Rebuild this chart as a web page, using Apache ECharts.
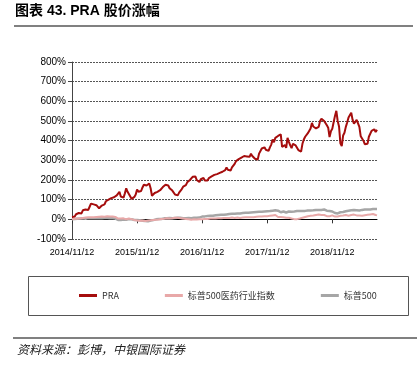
<!DOCTYPE html>
<html><head><meta charset="utf-8">
<script src="https://cdn.jsdelivr.net/npm/echarts@6/dist/echarts.min.js"></script>
<style>html,body{margin:0;padding:0;background:#fff}#c{width:417px;height:374px}</style>
</head><body><div id="c"></div>
<script>
var dates = [
"2014/11/12","2014/11/19","2014/11/26",
"2014/12/05","2014/12/12","2014/12/19","2014/12/26",
"2015/01/05","2015/01/12","2015/01/19","2015/01/26","2015/02/05","2015/02/12","2015/02/19","2015/02/26",
"2015/03/05","2015/03/12","2015/03/19","2015/03/26","2015/04/05","2015/04/12","2015/04/19","2015/04/26",
"2015/05/05","2015/05/12","2015/05/19","2015/05/26","2015/06/05","2015/06/12","2015/06/19","2015/06/26",
"2015/07/05","2015/07/12","2015/07/19","2015/07/26","2015/08/05","2015/08/12","2015/08/19","2015/08/26",
"2015/09/05","2015/09/12","2015/09/19","2015/09/26","2015/10/05","2015/10/12","2015/10/19","2015/10/26",
"2015/11/05","2015/11/12","2015/11/19","2015/11/26","2015/12/05","2015/12/12","2015/12/19","2015/12/26",
"2016/01/05","2016/01/12","2016/01/19","2016/01/26","2016/02/05","2016/02/12","2016/02/19","2016/02/26",
"2016/03/05","2016/03/12","2016/03/19","2016/03/26","2016/04/05","2016/04/12","2016/04/19","2016/04/26",
"2016/05/05","2016/05/12","2016/05/19","2016/05/26","2016/06/05","2016/06/12","2016/06/19","2016/06/26",
"2016/07/05","2016/07/12","2016/07/19","2016/07/26","2016/08/05","2016/08/12","2016/08/19","2016/08/26",
"2016/09/05","2016/09/12","2016/09/19","2016/09/26","2016/10/05","2016/10/12","2016/10/19","2016/10/26",
"2016/11/05","2016/11/12","2016/11/19","2016/11/26","2016/12/05","2016/12/12","2016/12/19","2016/12/26",
"2017/01/05","2017/01/12","2017/01/19","2017/01/26","2017/02/05","2017/02/12","2017/02/19","2017/02/26",
"2017/03/05","2017/03/12","2017/03/19","2017/03/26","2017/04/05","2017/04/12","2017/04/19","2017/04/26",
"2017/05/05","2017/05/12","2017/05/19","2017/05/26","2017/06/05","2017/06/12","2017/06/19","2017/06/26",
"2017/07/05","2017/07/12","2017/07/19","2017/07/26","2017/08/05","2017/08/12","2017/08/19","2017/08/26",
"2017/09/05","2017/09/12","2017/09/19","2017/09/26","2017/10/05","2017/10/12","2017/10/19","2017/10/26",
"2017/11/05","2017/11/12","2017/11/19","2017/11/26","2017/12/05","2017/12/12","2017/12/19","2017/12/26",
"2018/01/05","2018/01/12","2018/01/19","2018/01/26","2018/02/05","2018/02/12","2018/02/19","2018/02/26",
"2018/03/05","2018/03/12","2018/03/19","2018/03/26","2018/04/05","2018/04/12","2018/04/19","2018/04/26",
"2018/05/05","2018/05/12","2018/05/19","2018/05/26","2018/06/05","2018/06/12","2018/06/19","2018/06/26",
"2018/07/05","2018/07/12","2018/07/19","2018/07/26","2018/08/05","2018/08/12","2018/08/19","2018/08/26",
"2018/09/05","2018/09/12","2018/09/19","2018/09/26","2018/10/05","2018/10/12","2018/10/19","2018/10/26",
"2018/11/05","2018/11/12","2018/11/19","2018/11/26","2018/12/05","2018/12/12","2018/12/19","2018/12/26",
"2019/01/05","2019/01/12","2019/01/19","2019/01/26","2019/02/05","2019/02/12","2019/02/19","2019/02/26",
"2019/03/05","2019/03/12","2019/03/19","2019/03/26","2019/04/05","2019/04/12","2019/04/19","2019/04/26",
"2019/05/05","2019/05/12","2019/05/19","2019/05/26","2019/06/05","2019/06/12","2019/06/19","2019/06/26",
"2019/07/05","2019/07/12","2019/07/19"
];
var tickLabels = ["2014/11/12","2015/11/12","2016/11/12","2017/11/12","2018/11/12"];
var seriesNames = ["PRA","标普500医药行业指数","标普500"];
var pra = [
12,20,14,26,20, 32,38,30,46,38, 50,56,48,64,80, 70,76,66,72,62,
56,64,70,80,76, 92,86,100,94,108, 104,112,106,122,118, 140,116,122,110,132,
158,140,132,116,104, 94,114,126,152,140, 148,144,162,176,166, 172,164,182,158,120,
116,134,128,140,132, 148,144,164,158,176, 166,172,158,164,146, 138,126,132,122,136,
144,154,166,160,174, 188,180,200,194,216, 212,218,200,206,190, 204,196,210,198,206,
198,210,204,218,208, 226,220,230,220,236, 230,242,236,250,264, 252,262,248,264,272,
282,296,290,306,302, 314,306,322,312,320, 328,318,334,322,318, 308,314,304,334,342,
360,350,366,354,362, 348,366,380,406,392, 414,408,424,418,432, 368,362,378,364,414,
394,376,362,384,394, 376,384,352,358,344, 384,406,420,410,438, 432,462,490,472,480,
462,472,470,500,512, 518,500,504,478,466, 418,448,460,494,526, 552,500,472,386,372,
426,440,470,492,518, 526,542,506,486,478, 506,498,470,422,414, 400,382,388,384,420,
428,450,446,458,444, 456
];
var health = [
0,2,3,2,4, 5,4,6,7,8, 9,8,10,11,10, 12,11,13,12,14,
13,12,14,15,13, 14,16,15,14,13, 14,15,12,8,4, 2,4,3,5,2,
0,2,4,3,1, -1,-3,-4,-6,-5, -7,-8,-6,-9,-8, -7,-6,-8,-5,-4,
-3,-4,-2,-3,-1, 0,2,1,3,4, 5,3,4,6,5, 7,8,9,8,7,
6,5,4,3,2, 1,0,-1,-2,-1, 0,-2,-1,1,0, 2,1,0,2,3,
2,3,4,3,4, 5,4,6,5,6, 5,6,7,6,7, 8,7,8,9,8,
7,8,9,8,7, 8,9,8,10,9, 10,11,10,12,11, 12,13,12,14,15,
14,15,16,17,16, 17,18,19,20,21, 22,18,12,10,12, 13,11,9,8,10,
8,6,4,2,1, 0,1,2,4,6, 8,10,12,14,16, 17,18,20,19,21,
22,23,24,23,22, 24,22,20,16,14, 16,18,20,17,14, 12,14,16,18,20,
19,21,22,20,18, 20,22,21,24,22, 20,18,19,17,18, 19,21,22,23,24,
25,26,27,25,22, 20
];
var sp500 = [
0,1,2,1,3, 2,4,3,5,4, 3,5,6,4,5, 6,5,7,6,5,
6,7,5,6,7, 6,7,6,5,6, 5,6,4,2,-3, -6,-4,-2,-1,-3,
-2,0,1,2,0, -1,-3,-2,-4,-6, -5,-8,-7,-10,-9, -8,-10,-7,-6,-4,
-4,-2,0,1,2, 3,2,4,5,4, 6,5,7,6,5, 6,7,6,8,7,
8,7,6,7,6, 8,7,8,6,7, 8,9,8,10,9, 12,14,13,15,16,
17,16,18,19,18, 20,21,20,22,22, 23,24,23,25,25, 26,27,26,28,28,
29,28,30,31,30, 31,32,31,33,33, 34,33,35,35,36, 36,37,36,38,38,
39,38,40,40,41, 41,42,43,44,45, 46,47,44,38,36, 38,40,37,35,38,
40,41,39,38,40, 41,42,41,43,42, 43,44,43,44,45, 46,45,47,46,47,
48,47,48,49,48, 49,50,48,44,40, 42,44,40,36,32, 28,30,34,36,38,
37,40,41,43,44, 45,46,45,47,48, 46,42,45,47,48, 49,50,49,50,51,
50,51,52,51,52, 52
];

var chart = echarts.init(document.getElementById('c'), null, {renderer:'canvas'});
var axisFont = '"Liberation Sans",Arial,sans-serif';
function isTick(i, v){ return tickLabels.indexOf(v) >= 0; }
chart.setOption({
  animation: false,
  backgroundColor: '#fff',
  grid: {left: 72, right: 40, top: 62, bottom: 135, containLabel: false},
  legend: {
    data: seriesNames, left: 79, top: 291, padding: 0, itemGap: 46, itemWidth: 18, itemHeight: 3,
    icon: 'rect',
    textStyle: {fontFamily: '"Noto Sans CJK SC",serif', fontSize: 9, color: '#333'}
  },
  xAxis: [{
    type: 'category', data: dates, boundaryGap: false, position: 'bottom',
    axisLine: {onZero: true, lineStyle: {color: '#000', width: 1}},
    axisTick: {show: true, interval: isTick, length: 4, lineStyle: {color: '#333'}},
    axisLabel: {show: false},
    splitLine: {show: false}
  },{
    type: 'category', data: dates, boundaryGap: false, position: 'bottom',
    axisLine: {show: false, onZero: false}, axisTick: {show: false},
    axisLabel: {interval: isTick, fontFamily: axisFont, fontSize: 9, color: '#000', margin: 9},
    splitLine: {show: false}
  }],
  yAxis: {
    type: 'value', min: -100, max: 800, interval: 100,
    axisLine: {show: true, lineStyle: {color: '#444'}},
    axisTick: {show: true, length: 4, lineStyle: {color: '#444'}},
    axisLabel: {formatter: '{value}%', fontFamily: axisFont, fontSize: 10, color: '#000', margin: 6},
    splitLine: {show: true, lineStyle: {color: '#555', type: [2,1], width: 1}}
  },
  series: [
    {name: seriesNames[2], type: 'line', data: sp500, xAxisIndex: 0, symbol: 'none', lineStyle: {color: '#a6a6a6', width: 2.5}, itemStyle: {color: '#a6a6a6'}, z: 2},
    {name: seriesNames[1], type: 'line', data: health, xAxisIndex: 0, symbol: 'none', lineStyle: {color: '#e8a8a8', width: 2}, itemStyle: {color: '#e8a8a8'}, z: 3},
    {name: seriesNames[0], type: 'line', data: pra, xAxisIndex: 0, symbol: 'none', lineStyle: {color: '#a50d0d', width: 2}, itemStyle: {color: '#a50d0d'}, z: 4}
  ],
  graphic: [
    {type: 'text', left: 15, top: 4, style: {text: '图表 43. PRA 股价涨幅', font: 'bold 14px "Liberation Sans","Noto Sans CJK SC",sans-serif', fill: '#000'}},
    {type: 'line', shape: {x1: 14, y1: 26, x2: 413, y2: 26}, style: {stroke: '#808080', lineWidth: 2}},
    {type: 'rect', shape: {x: 28.5, y: 276.5, width: 380, height: 39}, style: {fill: 'none', stroke: '#555', lineWidth: 1}},
    {type: 'line', shape: {x1: 13, y1: 338, x2: 417, y2: 338}, style: {stroke: '#808080', lineWidth: 2}},
    {type: 'text', left: 17, top: 343, style: {text: '资料来源：彭博，中银国际证券', font: 'italic 12px "Noto Sans CJK SC",sans-serif', fill: '#222'}}
  ]
});
</script></body></html>
